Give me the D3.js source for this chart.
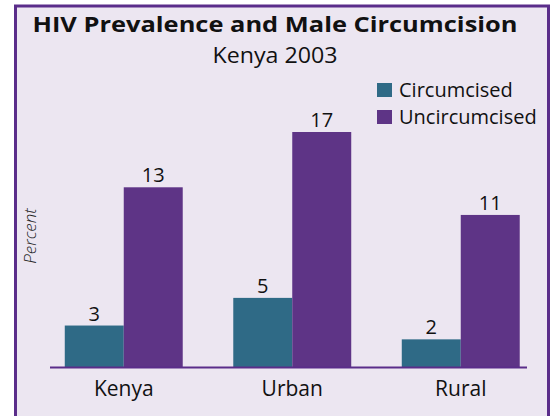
<!DOCTYPE html>
<html>
<head>
<meta charset="utf-8">
<script src="https://cdn.jsdelivr.net/npm/d3@7"></script>
<style>
  body { margin: 0; background: #fff; }
  svg { display: block; }
  text { font-family: "Open Sans", Lato, sans-serif; fill: #111; }
</style>
</head>
<body>
<div id="chart"></div>
<script>
// chart data
const regions = ["Kenya", "Urban", "Rural"];
const groups = ["Circumcised", "Uncircumcised"];
const circumcised = [3, 5, 2];
const uncircumcised = [13, 17, 11];

const colors = { "Circumcised": "#2f6a86", "Uncircumcised": "#5e3486" };

const width = 556, height = 416;
const svg = d3.select("#chart").append("svg")
  .attr("width", width)
  .attr("height", height);

// panel background + frame
svg.append("rect")
  .attr("x", 15.5).attr("y", 6)
  .attr("width", 533).attr("height", 420)
  .attr("fill", "#ece6f1")
  .attr("stroke", "#5a2d8a")
  .attr("stroke-width", 3);

// title
svg.append("text")
  .attr("x", 275).attr("y", 32)
  .attr("text-anchor", "middle")
  .attr("textLength", 485)
  .attr("lengthAdjust", "spacingAndGlyphs")
  .style("font-size", "21px")
  .style("font-weight", "bold")
  .text("HIV Prevalence and Male Circumcision");

svg.append("text")
  .attr("x", 275).attr("y", 63)
  .attr("text-anchor", "middle")
  .attr("textLength", 125)
  .attr("lengthAdjust", "spacingAndGlyphs")
  .style("font-size", "21px")
  .text("Kenya 2003");

const table = regions.map((r, i) => ({
  region: r,
  values: [
    { key: "Circumcised", value: circumcised[i] },
    { key: "Uncircumcised", value: uncircumcised[i] }
  ]
}));

const x0 = d3.scaleBand()
  .domain(regions)
  .range([39.5, 545])
  .paddingInner(0.3)
  .paddingOuter(0.15);

const x1 = d3.scaleBand()
  .domain(groups)
  .range([0, x0.bandwidth()]);

const y = d3.scaleLinear()
  .domain([0, 17])
  .range([367, 132]);

const g = svg.selectAll(".grp")
  .data(table)
  .join("g")
  .attr("class", "grp")
  .attr("transform", d => `translate(${x0(d.region)},0)`);

g.selectAll("rect")
  .data(d => d.values)
  .join("rect")
  .attr("x", d => x1(d.key))
  .attr("y", d => y(d.value))
  .attr("width", x1.bandwidth())
  .attr("height", d => y(0) - y(d.value))
  .attr("fill", d => colors[d.key]);

g.selectAll(".val")
  .data(d => d.values)
  .join("text")
  .attr("class", "val")
  .attr("x", d => x1(d.key) + x1.bandwidth() / 2)
  .attr("y", d => y(d.value) - 5)
  .attr("text-anchor", "middle")
  .style("font-size", "20px")
  .text(d => d.value);

// baseline
svg.append("line")
  .attr("x1", 50).attr("x2", 527)
  .attr("y1", y(0) + 0.5).attr("y2", y(0) + 0.5)
  .attr("stroke", "#5a2d8a")
  .attr("stroke-width", 2);

// category labels
svg.selectAll(".cat")
  .data(regions)
  .join("text")
  .attr("class", "cat")
  .attr("x", d => x0(d) + x0.bandwidth() / 2)
  .attr("y", 396)
  .attr("text-anchor", "middle")
  .style("font-size", "21px")
  .text(d => d);

// y label
svg.append("text")
  .attr("transform", "translate(36,236) rotate(-90)")
  .attr("text-anchor", "middle")
  .style("font-size", "17px")
  .style("font-style", "italic")
  .style("font-weight", "300")
  .style("fill", "#222")
  .text("Percent");

// legend
const legend = svg.selectAll(".leg")
  .data(groups)
  .join("g")
  .attr("class", "leg")
  .attr("transform", (d, i) => `translate(377,${83 + i * 27})`);

legend.append("rect")
  .attr("width", 15).attr("height", 14)
  .attr("fill", d => colors[d]);

legend.append("text")
  .attr("x", 22).attr("y", 14)
  .style("font-size", "20px")
  .text(d => d);
</script>
</body>
</html>
